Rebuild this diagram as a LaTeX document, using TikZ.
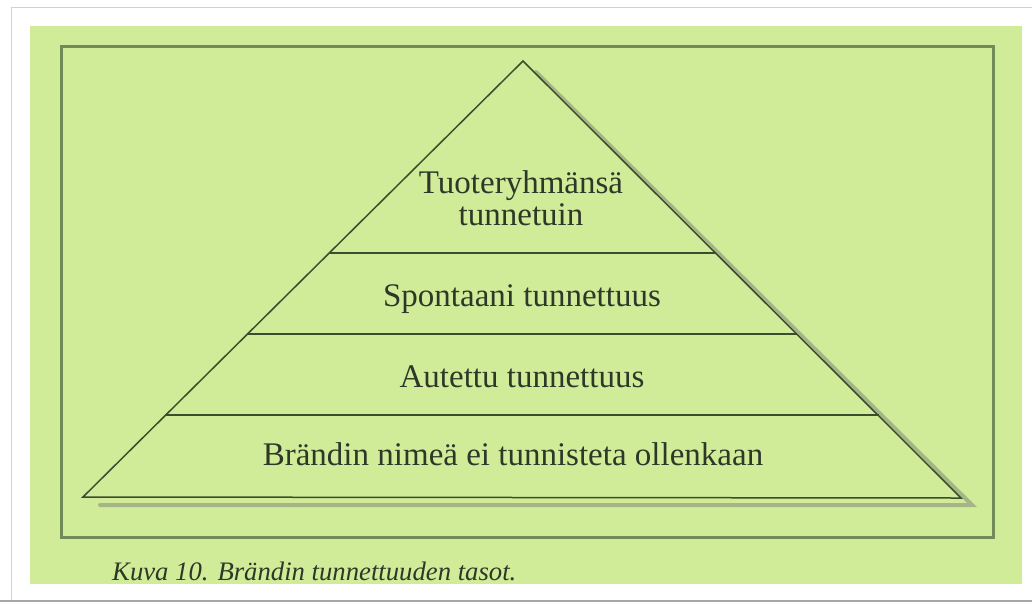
\documentclass[tikz,border=0pt]{standalone}
\usepackage{fontspec}
\setmainfont{Liberation Serif}
\definecolor{bggreen}{RGB}{209,236,153}
\definecolor{framecol}{RGB}{112,138,88}
\definecolor{linecol}{RGB}{58,78,45}
\definecolor{txtcol}{RGB}{45,56,40}
\tikzset{
  level/.style={anchor=base, text=txtcol, font=\fontsize{33}{35}\selectfont, inner sep=0pt},
  tline/.style={draw=linecol, line width=1.5pt},
  shadowline/.style={draw=black!55, line width=4pt, opacity=0.45, line cap=round}
}
\begin{document}
\begin{tikzpicture}[x=1pt,y=-1pt]
\useasboundingbox (0,0) rectangle (1032,603);
\fill[white] (0,0) rectangle (1032,603);
% page edge
\draw[black!18, line width=1pt] (11,600) -- (11,7) -- (1032,7);
\draw[black!35, line width=1.5pt] (0,601) -- (1032,601);
% green background
\fill[bggreen] (30,26) rectangle (1022,584);
% frame
\draw[framecol, line width=3pt] (61,46) rectangle (993,537);
% triangle
\coordinate (A) at (523,61);
\coordinate (L) at (83,497);
\coordinate (R) at (961,498);
\draw[shadowline] (536,72) -- (972,505) -- (100,505);
\draw[tline, fill=bggreen, line join=miter] (A) -- (R) -- (L) -- cycle;
% level lines
\coordinate (l1a) at (330,253); \coordinate (l1b) at (715,253);
\coordinate (l2a) at (248,334); \coordinate (l2b) at (797,334);
\coordinate (l3a) at (165,415); \coordinate (l3b) at (879,415);
\draw[tline] (l1a) -- (l1b);
\draw[tline] (l2a) -- (l2b);
\draw[tline] (l3a) -- (l3b);
% texts
\node[level] (t1) at (521,193) {Tuoteryhmänsä};
\node[level] (t1b) at (521,225) {tunnetuin};
\node[level] (t2) at (522,306) {Spontaani tunnettuus};
\node[level] (t3) at (522,387) {Autettu tunnettuus};
\node[level] (t4) at (513,465) {Brändin nimeä ei tunnisteta ollenkaan};
\node[anchor=base west, text=txtcol, inner sep=0pt, font=\fontsize{26.7}{28}\selectfont\itshape] (cap) at (112,580) {Kuva 10. Brändin tunnettuuden tasot.};
\end{tikzpicture}
\end{document}
